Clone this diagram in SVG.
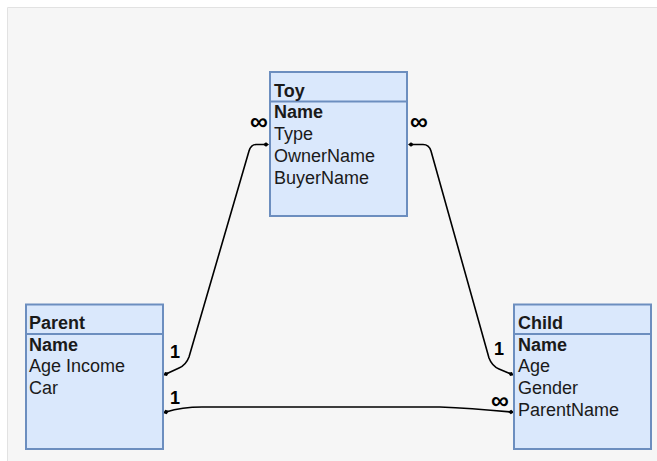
<svg xmlns="http://www.w3.org/2000/svg" width="657" height="461" viewBox="0 0 657 461">
  <style>
    .box { fill: #dae8fc; stroke: #6c8ebf; stroke-width: 2; }
    .div { stroke: #6c8ebf; stroke-width: 2; }
    .hd { font-family: "Liberation Sans", Arial, sans-serif; font-size: 18px; font-weight: bold; fill: #1a1a1a; }
    .row { font-family: "Liberation Sans", Arial, sans-serif; font-size: 18px; fill: #1a1a1a; }
    .key { font-weight: bold; }
    .edge { fill: none; stroke: #000; stroke-width: 1.6; }
    .lbl { font-family: "Liberation Sans", Arial, sans-serif; font-size: 18px; font-weight: bold; fill: #000; }
    .inf { font-family: "Liberation Sans", Arial, sans-serif; font-size: 25px; font-weight: bold; fill: #000; }
  </style>
  <defs>
    <marker id="dot" viewBox="0 0 8 8" refX="4" refY="4" markerWidth="6" markerHeight="6" markerUnits="userSpaceOnUse" orient="auto">
      <path d="M0 4 L4 1 L8 4 L4 7 Z" fill="#000"/>
    </marker>
  </defs>

  <!-- canvas -->
  <rect x="0" y="0" width="657" height="461" fill="#ffffff"/>
  <rect x="8" y="8" width="649" height="453" fill="#f6f6f6"/>
  <path d="M7.5 461 V7.5 H657" fill="none" stroke="#e2e2e2" stroke-width="1"/>

  <!-- connectors -->
  <g id="connectors">
    <path class="edge" marker-start="url(#dot)" marker-end="url(#dot)" d="M266 144.5 L256 144.5 Q251 144.5 249 151 L189 357 Q186 365 179 368 L166 374"/>
    <path class="edge" marker-start="url(#dot)" marker-end="url(#dot)" d="M411 144.5 L423 144.5 Q429 144.5 431 151 L489 358 Q492 366 499 369 L511 374"/>
    <path class="edge" marker-start="url(#dot)" marker-end="url(#dot)" d="M166 412 Q182 407 202 407 L440 407 Q470 408 511 412"/>
    <text class="inf" x="250" y="130">∞</text>
    <text class="inf" x="410" y="130">∞</text>
    <text class="lbl" x="170" y="358">1</text>
    <text class="lbl" x="170" y="404">1</text>
    <text class="lbl" x="494" y="355">1</text>
    <text class="inf" x="491" y="409">∞</text>
  </g>

  <!-- Toy -->
  <g id="toy">
    <rect class="box" x="270" y="72" width="137" height="144"/>
    <line class="div" x1="270" y1="101.5" x2="407" y2="101.5"/>
    <text class="hd" x="274" y="97">Toy</text>
    <text class="row key" x="274" y="118">Name</text>
    <text class="row" x="274" y="140">Type</text>
    <text class="row" x="274" y="162">OwnerName</text>
    <text class="row" x="274" y="184">BuyerName</text>
  </g>

  <!-- Parent -->
  <g id="parent">
    <rect class="box" x="26" y="304.5" width="137" height="144.5"/>
    <line class="div" x1="26" y1="334" x2="163" y2="334"/>
    <text class="hd" x="29" y="329">Parent</text>
    <text class="row key" x="29" y="351">Name</text>
    <text class="row" x="29" y="372">Age Income</text>
    <text class="row" x="29" y="394">Car</text>
  </g>

  <!-- Child -->
  <g id="child">
    <rect class="box" x="514" y="304.5" width="137" height="144.5"/>
    <line class="div" x1="514" y1="334" x2="651" y2="334"/>
    <text class="hd" x="518" y="329">Child</text>
    <text class="row key" x="518" y="351">Name</text>
    <text class="row" x="518" y="372">Age</text>
    <text class="row" x="518" y="394">Gender</text>
    <text class="row" x="518" y="416">ParentName</text>
  </g>
</svg>
